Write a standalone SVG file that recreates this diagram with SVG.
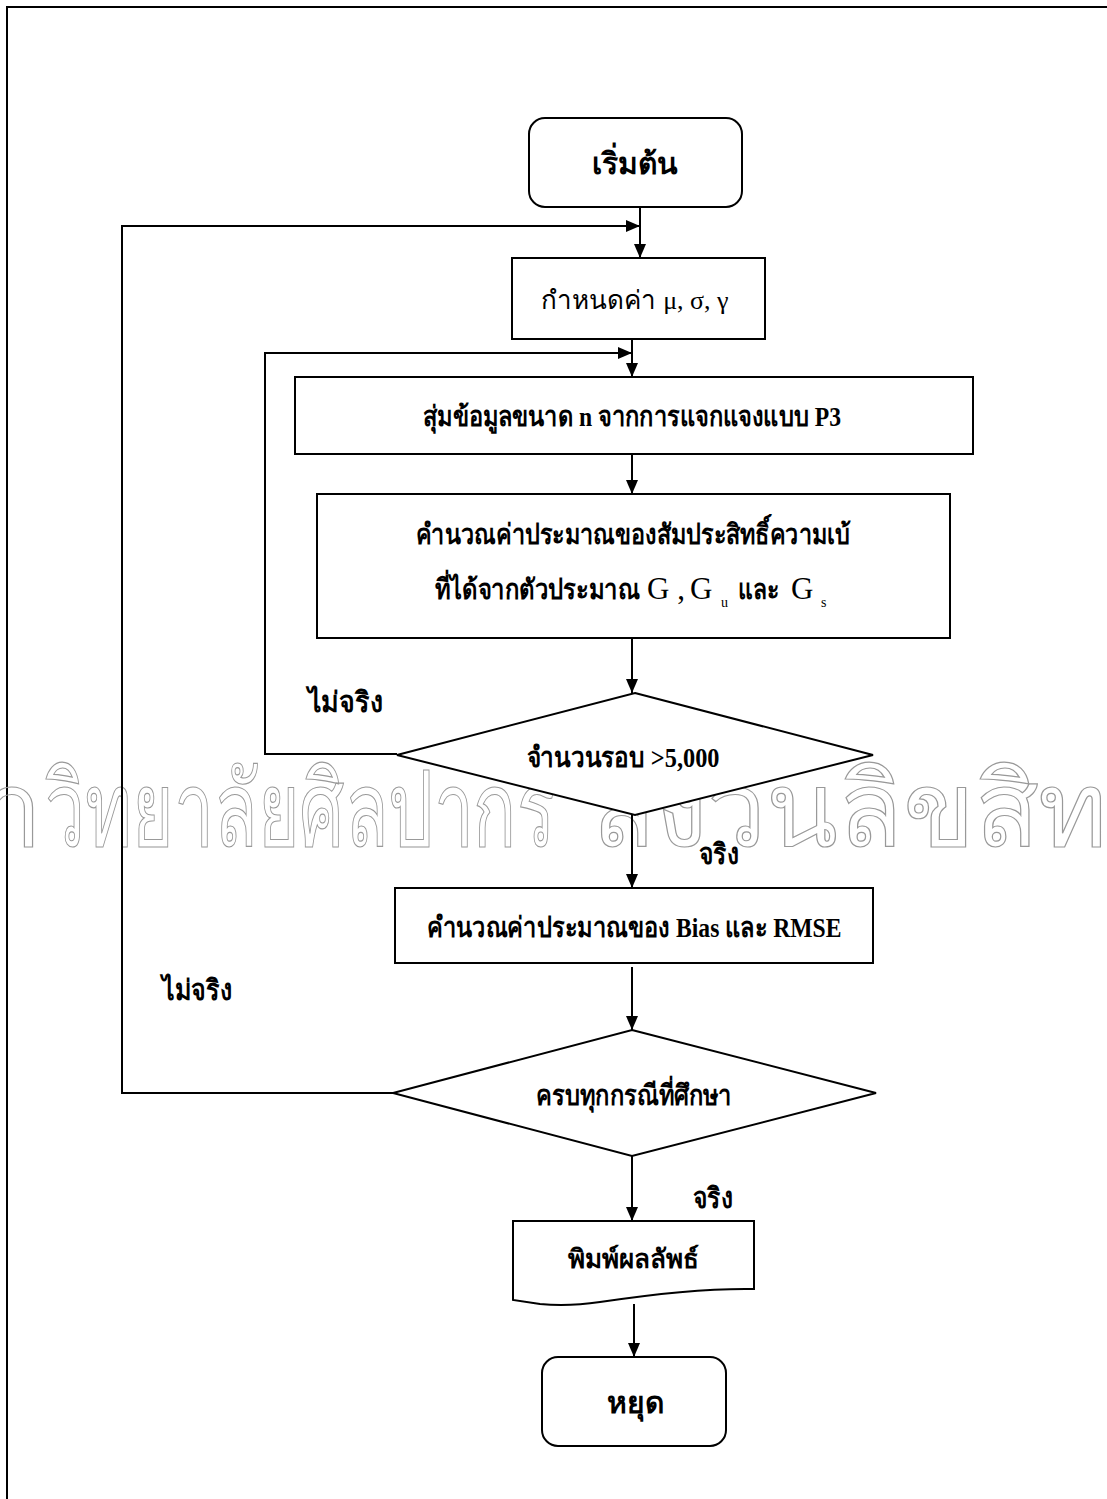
<svg xmlns="http://www.w3.org/2000/svg" width="1107" height="1499" viewBox="0 0 1107 1499">
<style>
.box{fill:#fff;stroke:#000;stroke-width:2}
.ln{fill:none;stroke:#000;stroke-width:2}
.th{font-family:"Liberation Serif","Noto Sans CJK SC",serif;font-weight:bold;font-size:28px;fill:#000}
.lb{font-family:"Liberation Serif","Noto Sans CJK SC",serif;font-weight:bold;font-size:29px;fill:#000}
.ts{font-family:"Noto Sans","DejaVu Sans",sans-serif;fill:#000}
.wm{font-family:"Liberation Serif","Noto Sans CJK SC",serif;font-size:104px;fill:none;stroke:#999;stroke-width:1.2}
.gr{font-family:"Liberation Serif",serif;font-weight:normal;fill:#000}
</style>
<defs>
<marker id="ah" viewBox="0 0 14 12" refX="14" refY="6" markerWidth="14" markerHeight="12" markerUnits="userSpaceOnUse" orient="auto">
<path d="M0,0 L14,6 L0,12 Z" fill="#000"/>
</marker>
</defs>
<rect x="0" y="0" width="1107" height="1499" fill="#fff"/>
<g id="frame">
<path class="ln" d="M7,1499 V7 H1107"/>
</g>
<g id="watermark">
<text class="wm" x="42" y="846" text-anchor="end">มหา</text>
<text class="wm" x="45" y="846" textLength="510" lengthAdjust="spacingAndGlyphs">วิทยาลัยศิลปากร</text>
<text class="wm" x="592" y="846" textLength="580" lengthAdjust="spacingAndGlyphs">สงวนลิขสิทธิ์</text>
</g>
<g id="connectors">
<line class="ln" x1="640" y1="207" x2="640" y2="258" marker-end="url(#ah)"/>
<polyline class="ln" points="393,1093 122,1093 122,226 640,226" marker-end="url(#ah)"/>
<polyline class="ln" points="397,754 265,754 265,353 632,353" marker-end="url(#ah)"/>
<line class="ln" x1="632" y1="339" x2="632" y2="377" marker-end="url(#ah)"/>
<line class="ln" x1="632" y1="454" x2="632" y2="494" marker-end="url(#ah)"/>
<line class="ln" x1="632" y1="638" x2="632" y2="693" marker-end="url(#ah)"/>
<line class="ln" x1="632" y1="815" x2="632" y2="888" marker-end="url(#ah)"/>
<line class="ln" x1="632" y1="967" x2="632" y2="1030" marker-end="url(#ah)"/>
<line class="ln" x1="632" y1="1156" x2="632" y2="1221" marker-end="url(#ah)"/>
<line class="ln" x1="634" y1="1304" x2="634" y2="1357" marker-end="url(#ah)"/>
</g>
<g id="labels">
<text class="lb" x="345" y="712" text-anchor="middle" textLength="75" lengthAdjust="spacingAndGlyphs">ไม่จริง</text>
<text class="lb" x="719" y="864" text-anchor="middle" textLength="40" lengthAdjust="spacingAndGlyphs">จริง</text>
<text class="lb" x="197" y="1000" text-anchor="middle" textLength="70" lengthAdjust="spacingAndGlyphs">ไม่จริง</text>
<text class="lb" x="713" y="1208" text-anchor="middle" textLength="40" lengthAdjust="spacingAndGlyphs">จริง</text>
</g>
<g id="start">
<rect class="box" x="529" y="118" width="213" height="89" rx="16"/>
<text class="ts" x="635" y="174" text-anchor="middle" font-size="30" font-weight="bold">เริ่มต้น</text>
</g>
<g id="set-params">
<rect class="box" x="512" y="258" width="253" height="81"/>
<text class="ts" x="635" y="309" text-anchor="middle" font-size="26">กำหนดค่า <tspan class="gr">μ, σ, γ</tspan></text>
</g>
<g id="sample">
<rect class="box" x="295" y="377" width="678" height="77"/>
<text class="th" x="632" y="426" text-anchor="middle" textLength="418" lengthAdjust="spacingAndGlyphs">สุ่มข้อมูลขนาด n จากการแจกแจงแบบ P3</text>
</g>
<g id="compute-skew">
<rect class="box" x="317" y="494" width="633" height="144"/>
<text class="th" x="633" y="544" text-anchor="middle" textLength="435" lengthAdjust="spacingAndGlyphs">คำนวณค่าประมาณของสัมประสิทธิ์ความเบ้</text>
<text class="th" x="435" y="599" textLength="205" lengthAdjust="spacingAndGlyphs">ที่ได้จากตัวประมาณ</text>
<text class="gr" x="647" y="599" font-size="31">G ,</text>
<text class="gr" x="690" y="599" font-size="31">G</text>
<text class="gr" x="721" y="607" font-size="14">u</text>
<text class="th" x="738" y="599" textLength="41" lengthAdjust="spacingAndGlyphs">และ</text>
<text class="gr" x="791" y="599" font-size="31">G</text>
<text class="gr" x="821" y="607" font-size="14">s</text>
</g>
<g id="loop-check">
<polygon class="box" points="635,693 873,755 635,815 397,755"/>
<text class="th" x="623" y="767" text-anchor="middle" textLength="193" lengthAdjust="spacingAndGlyphs">จำนวนรอบ &gt;5,000</text>
</g>
<g id="compute-bias">
<rect class="box" x="395" y="888" width="478" height="75"/>
<text class="th" x="634" y="937" text-anchor="middle" textLength="415" lengthAdjust="spacingAndGlyphs">คำนวณค่าประมาณของ  Bias และ RMSE</text>
</g>
<g id="all-cases">
<polygon class="box" points="632,1030 876,1093 632,1156 393,1093"/>
<text class="th" x="634" y="1105" text-anchor="middle" textLength="196" lengthAdjust="spacingAndGlyphs">ครบทุกกรณีที่ศึกษา</text>
</g>
<g id="print">
<path class="box" d="M513,1221 H754 V1289 C700,1288 640,1296 600,1302 C580,1305 560,1306 540,1304 L513,1300 Z"/>
<text class="ts" x="633" y="1268" text-anchor="middle" font-size="26" font-weight="bold">พิมพ์ผลลัพธ์</text>
</g>
<g id="stop">
<rect class="box" x="542" y="1357" width="184" height="89" rx="16"/>
<text class="ts" x="635" y="1413" text-anchor="middle" font-size="30" font-weight="bold">หยุด</text>
</g>
</svg>
